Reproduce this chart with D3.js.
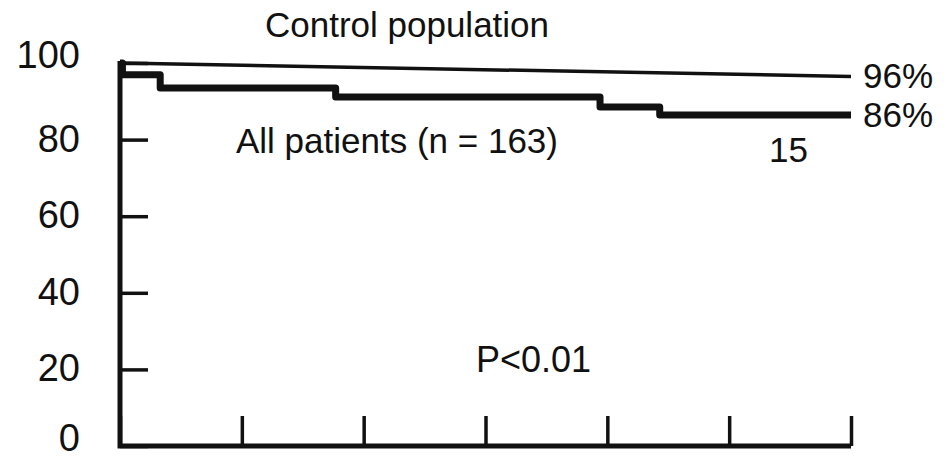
<!DOCTYPE html>
<html>
<head>
<meta charset="utf-8">
<script src="https://cdn.jsdelivr.net/npm/d3@7"></script>
<style>
  body { margin: 0; background: #fff; }
  text { font-family: "Liberation Sans", Arial, sans-serif; fill: #111; }
</style>
</head>
<body>
<div id="chart"></div>
<script>
// Space of graph
var width = 949,
    height = 459;

// Data
var yTicks = [0, 20, 40, 60, 80, 100];
var xTicks = [0, 1, 2, 3, 4, 5, 6];
var stepTimes  = [0, 0.02, 0.33, 1.77, 3.94, 4.43, 6];
var stepValues = [100, 96.9, 93.5, 91.1, 88.5, 86.4, 86.4];
var controlTimes  = [0, 6];
var controlValues = [100, 96.5];
var endLabels = ["96%", "86%"];

var svg = d3.select("#chart")
            .append("svg")
              .attr("width", width)
              .attr("height", height);

// Scales
var scaleX = d3.scaleLinear()
               .domain([0, 6])
               .range([120, 851]);

var scaleY = d3.scaleLinear()
               .domain([0, 100])
               .range([446, 63]);

// Y axis, ticks point inward
var yAxis = svg.append("g")
               .attr("transform", "translate(" + scaleX(0) + ",0)")
               .call(d3.axisRight(scaleY).tickValues(yTicks).tickSize(28).tickFormat(""));

// X axis, ticks point up
var xAxis = svg.append("g")
               .attr("transform", "translate(0," + scaleY(0) + ")")
               .call(d3.axisTop(scaleX).tickValues(xTicks).tickSize(30).tickFormat(""));

[yAxis, xAxis].forEach(function(ax) {
  ax.select(".domain").remove();
  ax.selectAll("line").attr("stroke", "#111").attr("stroke-width", 3.5);
});

// Axis lines
svg.append("path")
   .attr("d", d3.line()([[scaleX(0), scaleY(100) - 2], [scaleX(0), scaleY(0)], [scaleX(6), scaleY(0)]]))
   .attr("fill", "none")
   .attr("stroke", "#111")
   .attr("stroke-width", 5)
   .attr("stroke-linejoin", "miter");

// Y tick labels (the end ones sit a bit higher in the original)
svg.selectAll(".ylab")
   .data(yTicks)
   .enter()
   .append("text")
     .attr("class", "ylab")
     .attr("x", 80)
     .attr("y", function(d) { return scaleY(d) + (d == 100 || d == 0 ? 5 : 12); })
     .attr("text-anchor", "end")
     .style("font-size", "38px")
     .text(function(d) { return d; });

// Control population line
var ctrl = controlTimes.map(function(t, i) { return [scaleX(t), scaleY(controlValues[i])]; });
svg.append("path")
   .attr("d", d3.line()(ctrl))
   .attr("fill", "none")
   .attr("stroke", "#111")
   .attr("stroke-width", 3.5);

// Patients survival, step curve
var steps = stepTimes.map(function(t, i) { return [scaleX(t), scaleY(stepValues[i])]; });
svg.append("path")
   .attr("d", d3.line().curve(d3.curveStepAfter)(steps))
   .attr("fill", "none")
   .attr("stroke", "#111")
   .attr("stroke-width", 7)
   .attr("stroke-linejoin", "round");

// Labels at line ends
svg.selectAll(".endlab")
   .data([controlValues[1], stepValues[stepValues.length - 1]])
   .enter()
   .append("text")
     .attr("class", "endlab")
     .attr("x", 863)
     .attr("y", function(d) { return scaleY(d) + 12; })
     .style("font-size", "35px")
     .text(function(d, i) { return endLabels[i]; });

// Other text
svg.append("text").attr("x", 407).attr("y", 37).attr("text-anchor", "middle")
   .style("font-size", "35px").text("Control population");
svg.append("text").attr("x", 236).attr("y", 153)
   .style("font-size", "35px").text("All patients (n = 163)");
svg.append("text").attr("x", 769).attr("y", 162)
   .style("font-size", "35px").text("15");
svg.append("text").attr("x", 476).attr("y", 372)
   .style("font-size", "36px").text("P<0.01");
</script>
</body>
</html>
